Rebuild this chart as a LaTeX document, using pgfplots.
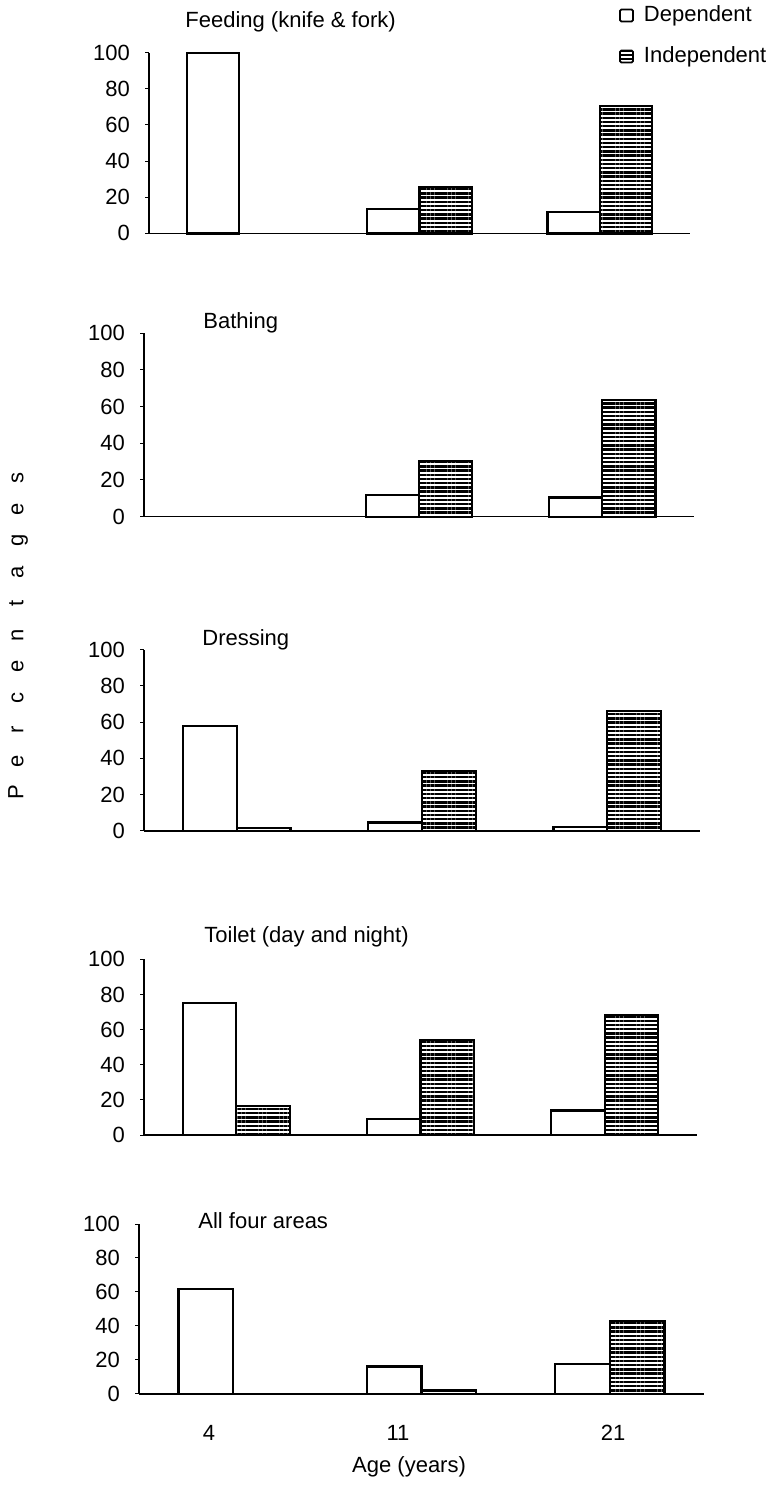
\documentclass[border=0pt]{standalone}
\usepackage{fontspec}
\setmainfont{Liberation Sans}
\usepackage{pgfplots}
\usepackage{pgfplotstable}
\pgfplotsset{compat=1.18}
\usetikzlibrary{patterns.meta}

\pgfplotstableread{
x dep ind
0 100 0
1 13.5 25.5
2 12 70.5
}\feeding
\pgfplotstableread{
x dep ind
0 0 0
1 12 30.2
2 10.4 63.6
}\bathing
\pgfplotstableread{
x dep ind
0 57.9 1.7
1 4.6 32.9
2 2.2 66.2
}\dressing
\pgfplotstableread{
x dep ind
0 75.1 16.5
1 8.9 53.9
2 13.9 68.5
}\toilet
\pgfplotstableread{
x dep ind
0 61.7 0
1 16.1 2
2 17.5 42.8
}\allfour

\newcommand{\lbl}{\fontsize{11}{13.2}\selectfont}

\pgfplotsset{
  panel/.style={
    scale only axis, anchor=south west,
    axis lines*=left, xmin=-0.5, xmax=2.5, ymin=0, ymax=100,
    ytick={0,20,...,100}, xtick=\empty,
    tick align=outside, major tick length=2pt,
    axis line style={line width=0.7pt},
    y tick style={line width=0.5pt, black},
    ticklabel style={font=\lbl},
    yticklabel style={xshift=-4pt},
    /pgf/number format/assume math mode=true,
    clip=false,
    y filter/.expression={y==0 ? nan : y},
  },
  depbar/.style={ybar, bar width=0.29, bar shift=-0.145, draw=black, fill=white, line width=1.1pt,
    legend image code/.code={\draw[black,fill=white,line width=0.9pt,rounded corners=0.7pt] (0pt,-3pt) rectangle (6.5pt,3pt);}},
  indbar/.style={ybar, bar width=0.29, bar shift=0.145, draw=black, line width=1.1pt,
    pattern={Lines[angle=0,distance=2.1pt,line width=1.15pt]}, pattern color=black,
    legend image code/.code={\draw[black,line width=0.9pt,rounded corners=0.7pt,pattern={Lines[angle=0,distance=2pt,line width=1pt]}] (0pt,-3pt) rectangle (6.5pt,3pt);}},
}

\begin{document}
\begin{tikzpicture}
\useasboundingbox (0,0) rectangle (384.5pt,-743.5pt);

% Panel 1
\begin{axis}[panel, at={(74.5pt,-116.7pt)}, width=270.5pt, height=90.35pt,
  legend style={at={(axis description cs:0.868,1.288)}, anchor=north west, draw=none, fill=none,
    inner sep=0pt, font=\lbl, legend cell align=left, row sep=6pt,
    nodes={inner sep=2.5pt}, column sep=2.5pt}]
\addplot[depbar] table[x=x,y=dep]{\feeding};
\addlegendentry{Dependent}
\addplot[indbar] table[x=x,y=ind]{\feeding};
\addlegendentry{Independent}
\end{axis}

% Panel 2
\begin{axis}[panel, at={(72pt,-258.3pt)}, width=275pt, height=91.65pt]
\addplot[depbar] table[x=x,y=dep]{\bathing};
\addplot[indbar] table[x=x,y=ind]{\bathing};
\end{axis}

% Panel 3
\begin{axis}[panel, at={(72pt,-415.4pt)}, width=278pt, height=90.65pt]
\addplot[depbar] table[x=x,y=dep]{\dressing};
\addplot[indbar] table[x=x,y=ind]{\dressing};
\end{axis}

% Panel 4
\begin{axis}[panel, at={(72pt,-567.5pt)}, width=276.5pt, height=87.85pt]
\addplot[depbar] table[x=x,y=dep]{\toilet};
\addplot[indbar] table[x=x,y=ind]{\toilet};
\end{axis}

% Panel 5
\begin{axis}[panel, at={(69.5pt,-696.9pt)}, width=282.5pt, height=84.9pt,
  xtick={-0.129,0.875,2.017}, xticklabels={4,11,21},
  x tick style={draw=none},
  xticklabel style={yshift=-10pt},
  xlabel={Age (years)},
  xlabel style={font=\lbl, at={(axis description cs:0.478,0)}, anchor=center, yshift=-36.5pt}]
\addplot[depbar] table[x=x,y=dep]{\allfour};
\addplot[indbar] table[x=x,y=ind]{\allfour};
\end{axis}

% Panel titles
\node[anchor=west, inner sep=0pt, font=\lbl] at (92.5pt,-11pt) {Feeding (knife \& fork)};
\node[anchor=west, inner sep=0pt, font=\lbl] at (101.5pt,-161.5pt) {Bathing};
\node[anchor=west, inner sep=0pt, font=\lbl] at (101pt,-320pt) {Dressing};
\node[anchor=west, inner sep=0pt, font=\lbl] at (102pt,-468.5pt) {Toilet (day and night)};
\node[anchor=west, inner sep=0pt, font=\lbl] at (99pt,-610.5pt) {All four areas};

% y label
\node[rotate=90, inner sep=0pt, font=\lbl] at (9pt,-317.5pt) {%
\makebox[15.75pt]{P}\makebox[15.75pt]{e}\makebox[15.75pt]{r}\makebox[15.75pt]{c}\makebox[15.75pt]{e}\makebox[15.75pt]{n}\makebox[15.75pt]{t}\makebox[15.75pt]{a}\makebox[15.75pt]{g}\makebox[15.75pt]{e}\makebox[15.75pt]{s}};
\end{tikzpicture}
\end{document}
